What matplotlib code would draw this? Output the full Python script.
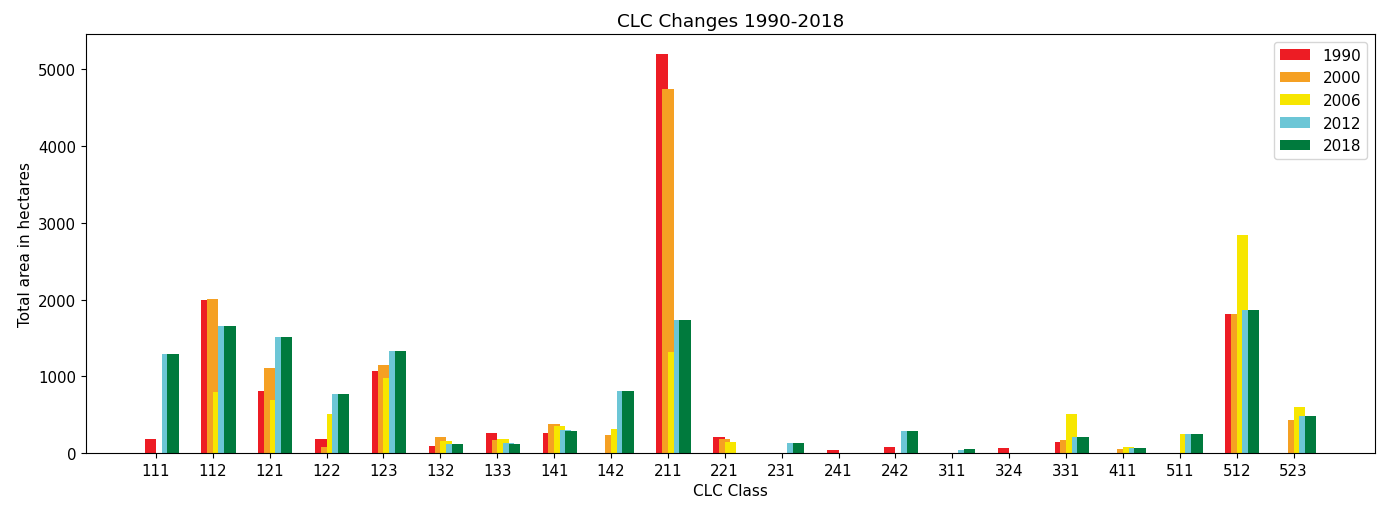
import numpy as np
import matplotlib
matplotlib.use("Agg")
import matplotlib.pyplot as plt

classes = ["111", "112", "121", "122", "123", "132", "133", "141", "142", "211",
           "221", "231", "241", "242", "311", "324", "331", "411", "511", "512", "523"]

area_1990 = [182, 1995, 803, 182, 1063, 87, 258, 258, 0, 5200,
             204, 0, 43, 83, 0, 65, 143, 0, 0, 1806, 0]
area_2000 = [0, 2012, 1107, 82, 1146, 204, 169, 382, 239, 4748,
             187, 0, 0, 0, 0, 0, 174, 47, 0, 1806, 430]
area_2006 = [0, 790, 690, 508, 977, 161, 178, 356, 317, 1311,
             148, 0, 0, 0, 0, 0, 508, 82, 245, 2839, 603]
area_2012 = [1285, 1649, 1506, 764, 1328, 117, 126, 300, 807, 1732,
             0, 126, 0, 286, 39, 0, 204, 65, 245, 1858, 486]
area_2018 = [1285, 1649, 1506, 764, 1328, 117, 122, 282, 807, 1732,
             0, 126, 0, 286, 48, 0, 204, 65, 245, 1858, 486]

years = ["1990", "2000", "2006", "2012", "2018"]
series = [area_1990, area_2000, area_2006, area_2012, area_2018]
colors = ["#ED1C24", "#F5A023", "#F7E600", "#6CC6D6", "#007A3D"]
offsets = [-0.1, 0.0, 0.1, 0.2, 0.3]

plt.rcParams["font.size"] = 11
plt.rcParams["xtick.labelsize"] = 10.8
plt.rcParams["ytick.labelsize"] = 10.8

fig = plt.figure(figsize=(13.86, 5.06), dpi=100)
ax = fig.add_axes([0.062, 0.1028, 0.930, 0.828])

x = np.arange(len(classes))
for vals, year, col, off in zip(series, years, colors, offsets):
    ax.bar(x + off, vals, width=0.2, color=col, label=year)

ax.set_xticks(x)
ax.set_xticklabels(classes)
ax.set_title("CLC Changes 1990-2018", fontsize=13.2)
ax.set_xlabel("CLC Class", fontsize=11)
ax.set_ylabel("Total area in hectares", fontsize=11)
ax.legend(loc="upper right", fontsize=11)

fig.savefig("out.png", dpi=100)
